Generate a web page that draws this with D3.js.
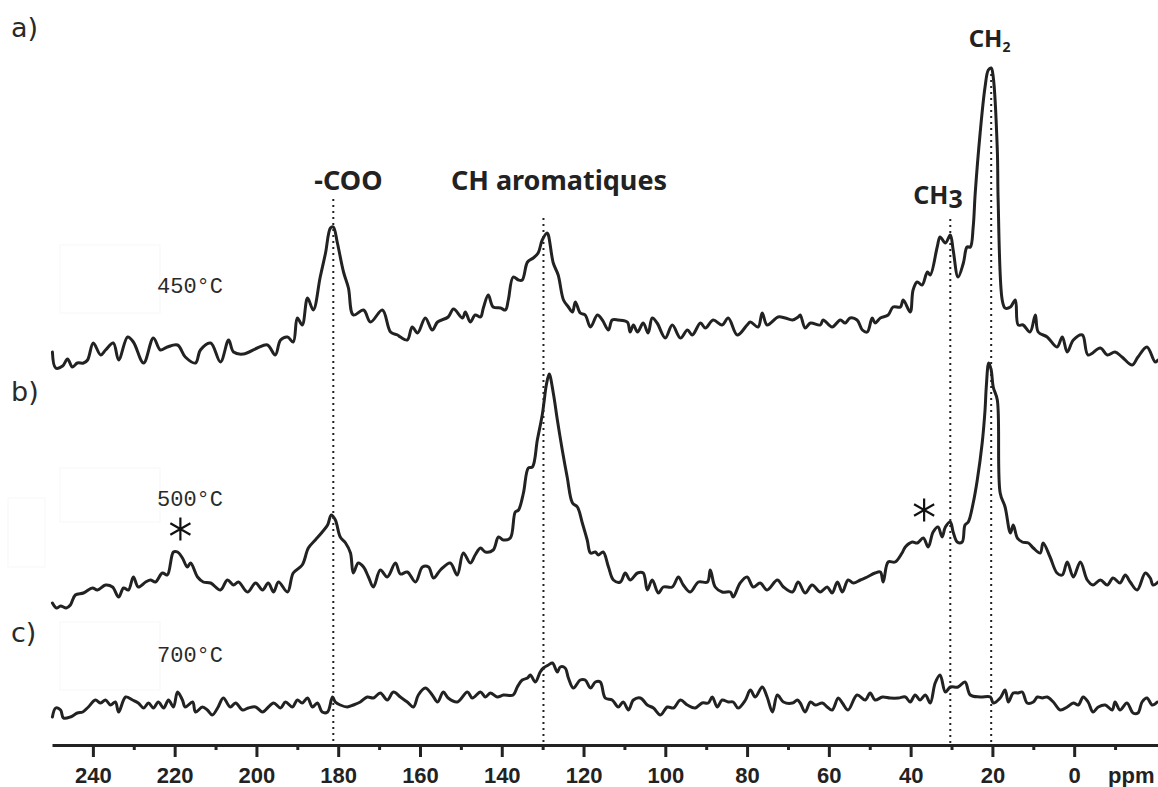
<!DOCTYPE html>
<html>
<head>
<meta charset="utf-8">
<script src="https://cdn.jsdelivr.net/npm/d3@7"></script>
<style>
  html, body { margin: 0; padding: 0; background: #fff; }
  svg { display: block; }
</style>
</head>
<body>
<svg id="chart" width="1158" height="787"></svg>
<script>
// Stacked 13C NMR spectra of chars prepared at three pyrolysis temperatures.

// Chemical-shift axis (ppm)
const majorTicks = [240, 220, 200, 180, 160, 140, 120, 100, 80, 60, 40, 20, 0];
const minorTicks = [230, 210, 190, 170, 150, 130, 110, 90, 70, 50, 30, 10, -10];

// Panel letters and sample temperatures, top to bottom
const panelLetters = ["a)", "b)", "c)"];
const temperatures = ["450°C", "500°C", "700°C"];
// Vertical stacking offset of each spectrum (intensity units)
const stackOffsets = [390, 145, 35];

// Spectrum a) 450 °C : [shift ppm, intensity]
const spectrum450 = [
  [249.9,3],[249.1,-13],[247.4,-11],[246.2,-4],[245.0,-12],[243.8,-8],[242.3,-8],[241.3,-5],[239.9,12],[238.1,0],
  [236.9,5],[235.0,12],[233.7,-5],[231.5,18],[230.1,13],[227.6,-8],[225.2,17],[223.5,5],[221.8,8],[219.3,10],
  [217.4,-2],[214.9,-8],[213.7,5],[211.2,12],[208.8,-7],[206.8,15],[205.6,3],[203.2,1],[199.8,7],[197.3,10],
  [195.4,0],[194.1,15],[192.4,18],[191.0,13],[190.0,37],[188.8,30],[187.5,57],[186.1,45],[184.4,78],[183.1,102],
  [181.9,127],[181.2,128],[180.2,112],[178.7,83],[177.5,67],[176.3,40],[173.8,45],[172.1,33],[169.2,45],[167.2,23],
  [165.5,20],[164.8,18],[163.1,15],[161.9,28],[160.6,22],[158.7,37],[157.0,25],[155.7,33],[153.1,38],[151.8,46],
  [149.6,37],[148.9,43],[147.7,33],[146.5,40],[145.2,38],[144.5,47],[143.3,60],[142.1,48],[140.3,47],[139.1,45],
  [138.4,55],[137.2,78],[135.9,75],[135.0,75],[133.7,93],[132.3,97],[131.1,102],[130.1,115],[128.9,122],[128.6,120],
  [127.4,92],[126.2,80],[124.9,55],[123.7,48],[122.7,43],[122.0,53],[120.8,42],[119.6,40],[118.3,28],[116.6,40],
  [115.4,35],[113.9,25],[113.0,35],[111.5,35],[109.3,33],[108.6,23],[107.8,30],[106.8,23],[105.4,32],[104.2,22],
  [103.2,37],[102.0,32],[100.0,17],[98.3,30],[96.3,17],[94.6,25],[93.4,20],[91.4,32],[90.2,27],[88.3,35],
  [86.1,30],[84.6,37],[82.4,20],[80.0,30],[79.2,33],[77.3,28],[76.3,42],[75.1,30],[72.4,38],[70.7,37],
  [68.9,35],[67.5,38],[67.0,40],[65.8,27],[64.5,32],[62.1,30],[61.4,35],[59.2,28],[57.2,35],[56.0,32],
  [54.8,37],[53.1,35],[51.8,25],[50.6,23],[49.4,37],[48.7,32],[47.4,37],[45.5,40],[44.3,48],[42.5,48],
  [41.8,55],[40.1,43],[39.4,65],[38.4,73],[37.2,70],[35.9,83],[35.2,80],[33.5,108],[32.8,118],[31.5,112],
  [30.3,120],[29.6,105],[28.4,78],[27.1,92],[26.2,108],[25.4,108],[24.7,128],[24.2,162],[23.0,222],[21.8,268],
  [21.0,285],[20.3,287],[19.8,278],[18.8,205],[18.6,155],[17.6,55],[16.9,47],[15.6,48],[14.4,55],[13.7,30],
  [12.5,30],[10.8,23],[9.5,40],[8.8,23],[6.6,18],[4.2,8],[2.9,18],[1.7,3],[0.2,15],[-2.0,20],
  [-3.4,0],[-6.4,7],[-8.1,0],[-10.0,3],[-11.7,-2],[-14.2,-10],[-15.6,-2],[-17.8,8],[-19.8,-7],[-20.5,-5]
];

// Spectrum b) 500 °C
const spectrum500 = [
  [249.9,-3],[248.9,-8],[247.9,-6],[246.5,-8],[245.5,-5],[244.3,5],[242.3,7],[240.1,12],[238.9,10],[236.9,15],
  [235.2,13],[233.7,3],[232.5,12],[231.3,10],[230.1,23],[228.9,13],[227.1,18],[225.9,20],[224.7,18],[223.0,27],
  [221.8,25],[220.3,48],[219.3,48],[218.1,42],[216.9,33],[216.1,37],[214.4,23],[213.0,18],[211.2,17],[208.8,10],
  [207.1,20],[205.6,15],[204.4,18],[202.2,8],[200.2,17],[198.5,10],[197.1,17],[195.8,8],[194.6,18],[192.4,8],
  [191.0,27],[188.8,35],[187.3,52],[185.6,60],[183.9,68],[182.6,75],[181.7,85],[180.7,80],[179.5,63],[178.2,57],
  [177.0,47],[176.3,27],[175.1,37],[173.8,33],[172.6,23],[171.4,13],[169.7,30],[168.0,23],[166.0,37],[164.8,26],
  [163.1,28],[161.1,18],[159.4,33],[157.9,33],[156.7,22],[155.0,30],[152.6,37],[150.9,25],[149.4,47],[147.7,37],
  [146.5,45],[145.2,52],[144.0,48],[142.1,50],[140.8,63],[139.6,60],[137.9,62],[136.7,88],[135.9,90],[134.7,107],
  [133.5,132],[132.5,133],[131.3,160],[130.1,185],[129.6,200],[129.1,215],[128.4,226],[127.4,207],[126.4,180],[125.2,150],
  [124.0,123],[122.7,97],[121.5,93],[120.3,77],[119.1,60],[118.3,47],[117.1,48],[116.4,45],[115.2,48],[113.9,33],
  [112.7,20],[111.0,18],[109.8,27],[108.6,20],[106.8,27],[105.4,27],[104.4,10],[103.2,20],[101.7,7],[100.5,13],
  [98.3,13],[96.8,23],[95.6,15],[93.9,8],[91.9,18],[89.7,18],[89.0,30],[87.8,13],[86.1,8],[84.1,8],
  [83.4,3],[81.7,17],[80.0,23],[78.5,13],[76.8,17],[75.1,10],[72.6,20],[71.1,13],[68.9,8],[67.5,18],
  [65.8,7],[64.1,15],[62.1,8],[60.4,13],[59.2,7],[57.9,18],[56.7,8],[55.3,20],[54.0,17],[52.3,20],
  [50.6,23],[48.7,27],[47.4,28],[46.7,18],[45.5,38],[43.8,38],[42.1,47],[41.3,53],[39.6,58],[38.4,57],
  [36.9,62],[35.7,53],[34.5,68],[33.3,73],[32.3,63],[31.5,73],[30.3,78],[29.6,68],[28.6,58],[27.4,58],
  [26.7,75],[25.9,78],[24.7,97],[23.7,120],[22.5,157],[21.8,190],[21.5,213],[20.9,237],[20.3,230],[19.8,213],
  [18.8,200],[18.1,107],[16.9,93],[15.6,67],[14.9,75],[13.9,62],[12.7,58],[11.2,57],[10.0,52],[8.3,47],
  [7.6,57],[5.9,43],[4.2,27],[2.9,25],[1.7,38],[0.2,23],[-1.5,38],[-3.2,20],[-4.6,15],[-6.4,20],
  [-8.1,15],[-9.5,22],[-11.2,17],[-12.5,25],[-13.7,18],[-15.4,10],[-17.4,27],[-18.6,22],[-19.3,15],[-20.5,18]
];

// Spectrum c) 700 °C
const spectrum700 = [
  [249.9,-7],[249.1,2],[247.9,0],[247.2,-8],[245.5,-7],[243.8,-3],[242.5,-2],[241.1,3],[239.4,10],[238.1,7],
  [236.9,10],[235.7,5],[234.5,8],[233.7,-2],[232.0,13],[230.3,10],[228.9,7],[227.6,2],[226.4,7],[225.2,2],
  [224.0,8],[222.7,2],[221.5,10],[220.3,3],[219.3,18],[218.1,10],[217.4,3],[215.6,8],[214.9,-2],[213.2,3],
  [212.0,0],[210.8,-5],[209.5,2],[208.1,12],[206.4,3],[205.1,7],[203.4,0],[202.0,2],[200.2,3],[198.5,-2],
  [197.3,2],[195.8,7],[194.1,2],[192.9,8],[191.2,3],[190.0,10],[188.8,7],[187.5,12],[186.3,3],[185.1,7],
  [183.9,-2],[182.6,-2],[181.4,13],[180.7,8],[179.5,5],[177.8,3],[176.3,5],[174.6,8],[172.9,13],[171.4,12],
  [169.7,17],[168.0,10],[166.5,18],[164.8,13],[163.1,8],[161.6,3],[160.4,15],[158.7,22],[157.0,15],[155.7,8],
  [154.3,18],[153.1,12],[150.9,8],[148.4,18],[147.2,12],[145.2,18],[144.0,13],[142.8,17],[141.1,13],[139.6,15],
  [137.2,15],[136.2,23],[135.0,30],[133.7,32],[133.0,35],[131.8,28],[130.6,38],[129.8,42],[128.6,45],[127.6,47],
  [126.4,38],[125.7,43],[124.5,42],[123.7,32],[122.5,22],[120.8,30],[119.6,30],[118.3,22],[117.1,28],[115.9,28],
  [114.7,12],[113.0,10],[111.5,3],[110.3,8],[109.0,0],[107.8,10],[106.1,12],[104.4,5],[102.9,2],[101.2,-5],
  [99.5,3],[98.0,2],[96.3,10],[94.6,5],[92.7,2],[91.0,7],[89.5,7],[88.5,13],[87.3,3],[86.1,10],
  [84.6,8],[83.4,8],[82.2,2],[80.4,10],[79.2,20],[78.0,13],[76.3,23],[75.1,13],[73.8,-2],[72.6,15],
  [71.1,8],[68.9,7],[67.7,10],[67.0,7],[65.8,-2],[64.5,8],[63.3,5],[61.6,7],[60.4,3],[59.2,0],
  [57.7,12],[56.7,7],[55.3,0],[53.1,15],[51.1,10],[49.9,17],[48.7,10],[46.9,13],[45.0,12],[43.0,12],
  [41.3,13],[40.1,8],[38.9,15],[37.7,10],[36.4,15],[35.2,7],[34.0,27],[32.8,35],[31.5,18],[30.3,23],
  [28.4,23],[26.7,28],[25.4,15],[23.0,13],[20.5,13],[19.8,7],[18.1,12],[16.9,20],[16.1,8],[14.9,17],
  [13.7,17],[12.7,18],[11.5,7],[10.0,8],[9.0,13],[7.8,12],[6.6,13],[5.1,8],[3.4,0],[1.7,3],
  [0.2,7],[-1.0,5],[-2.2,13],[-3.4,8],[-4.6,-2],[-5.9,3],[-7.6,5],[-9.3,0],[-10.0,8],[-11.2,0],
  [-12.9,7],[-14.4,-3],[-15.6,-3],[-16.6,8],[-17.8,12],[-19.1,5],[-20.3,8]
];

// Peak assignments: dotted guide positions (ppm) and the level where each guide starts
const assignmentShifts = [181.2, 129.8, 30.3, 20.3];
const assignmentTops = [546, 527, 526, 677];

// Spinning side bands in spectrum b), marked with asterisks: shift and intensity
const sidebandShifts = [218.6, 36.7];
const sidebandLevels = [71, 90];

// ---------------------------------------------------------------------------
const svg = d3.select("#chart");

const x = d3.scaleLinear().domain([250, -20.5]).range([52, 1158]);
const y = d3.scaleLinear().domain([0, 700]).range([745, 45]);

const ink = "#222";
const spectra = [spectrum450, spectrum500, spectrum700];

// barely visible frames left around the temperature captions
const frames = svg.append("g").attr("fill", "none").attr("stroke", "#f7f7f7").attr("stroke-width", 1);
[[60, 245, 100, 68], [60, 468, 100, 54], [8, 498, 37, 69], [60, 622, 100, 68]].forEach(r => {
  frames.append("rect").attr("x", r[0]).attr("y", r[1]).attr("width", r[2]).attr("height", r[3]);
});

// dotted assignment guides
svg.append("g").selectAll("line")
  .data(assignmentShifts)
  .join("line")
  .attr("x1", d => x(d)).attr("x2", d => x(d))
  .attr("y1", (d, i) => y(assignmentTops[i]))
  .attr("y2", y(0))
  .attr("stroke", ink)
  .attr("stroke-width", 2)
  .attr("stroke-dasharray", "2,4");

// spectra
const line = d3.line().x(d => x(d[0])).curve(d3.curveCatmullRom.alpha(0.5));
svg.append("g").selectAll("path")
  .data(spectra)
  .join("path")
  .attr("d", (s, i) => line.y(d => y(d[1] + stackOffsets[i]))(s))
  .attr("fill", "none")
  .attr("stroke", ink)
  .attr("stroke-width", 3)
  .attr("stroke-linejoin", "round")
  .attr("stroke-linecap", "round");

// side-band asterisks on spectrum b)
const star = d3.symbol(d3.symbolAsterisk || d3.symbolCross).size(380);
svg.append("g").selectAll("path")
  .data(sidebandShifts)
  .join("path")
  .attr("transform", (d, i) => `translate(${x(d)},${y(sidebandLevels[i] + stackOffsets[1])})`)
  .attr("d", star())
  .attr("fill", "none")
  .attr("stroke", "#111")
  .attr("stroke-width", 2.2);

// chemical-shift axis
const axis = d3.axisBottom(x).tickValues(majorTicks).tickSize(12).tickSizeOuter(0).tickFormat(d3.format("d"));
const gAxis = svg.append("g").attr("transform", `translate(0,${y(0)})`).call(axis);
gAxis.select(".domain").attr("stroke", ink).attr("stroke-width", 3);
gAxis.selectAll(".tick line").attr("stroke", ink).attr("stroke-width", 3);
gAxis.selectAll(".tick text")
  .attr("y", 38).attr("dy", 0)
  .attr("fill", ink)
  .style("font-family", "'Liberation Sans', Arial, sans-serif")
  .style("font-size", "22px")
  .style("font-weight", "bold");

const minorAxis = d3.axisBottom(x).tickValues(minorTicks).tickSize(5).tickSizeOuter(0).tickFormat("");
const gMinor = svg.append("g").attr("transform", `translate(0,${y(0)})`).call(minorAxis);
gMinor.select(".domain").remove();
gMinor.selectAll(".tick line").attr("stroke", ink).attr("stroke-width", 3);

svg.append("text")
  .attr("x", 1108).attr("y", 783)
  .attr("fill", ink)
  .style("font-family", "'Liberation Sans', Arial, sans-serif")
  .style("font-size", "22px")
  .style("font-weight", "bold")
  .text("ppm");

// panel letters
const letterY = [37, 401, 642];
svg.append("g").selectAll("text")
  .data(panelLetters)
  .join("text")
  .attr("x", 11)
  .attr("y", (d, i) => letterY[i])
  .attr("fill", "#2a2a2a")
  .style("font-family", "'DejaVu Sans', Verdana, sans-serif")
  .style("font-size", "27px")
  .text(d => d);

// temperature captions
const tempY = [293, 506, 662];
svg.append("g").selectAll("text")
  .data(temperatures)
  .join("text")
  .attr("x", 157)
  .attr("y", (d, i) => tempY[i])
  .attr("fill", "#2a2a2a")
  .style("font-family", "'Liberation Mono', 'DejaVu Sans Mono', monospace")
  .style("font-size", "22px")
  .text(d => d);

// assignment labels
const labelFont = "'Noto Sans', 'Open Sans', sans-serif";
function boldLabel(ppm, yy, size) {
  return svg.append("text")
    .attr("x", x(ppm)).attr("y", yy)
    .attr("text-anchor", "middle")
    .attr("fill", ink)
    .style("font-family", labelFont)
    .style("font-size", size + "px")
    .style("font-weight", "bold");
}
boldLabel(177.5, 190, 27).text("-COO");
boldLabel(126.0, 190, 27).text("CH aromatiques");
const ch3 = boldLabel(33.3, 204, 25).text("CH");
ch3.append("tspan").attr("dy", 4).text("3");
const ch2 = boldLabel(20.7, 47, 24).text("CH");
ch2.append("tspan").attr("dy", 5).style("font-size", "14px").text("2");
</script>
</body>
</html>
